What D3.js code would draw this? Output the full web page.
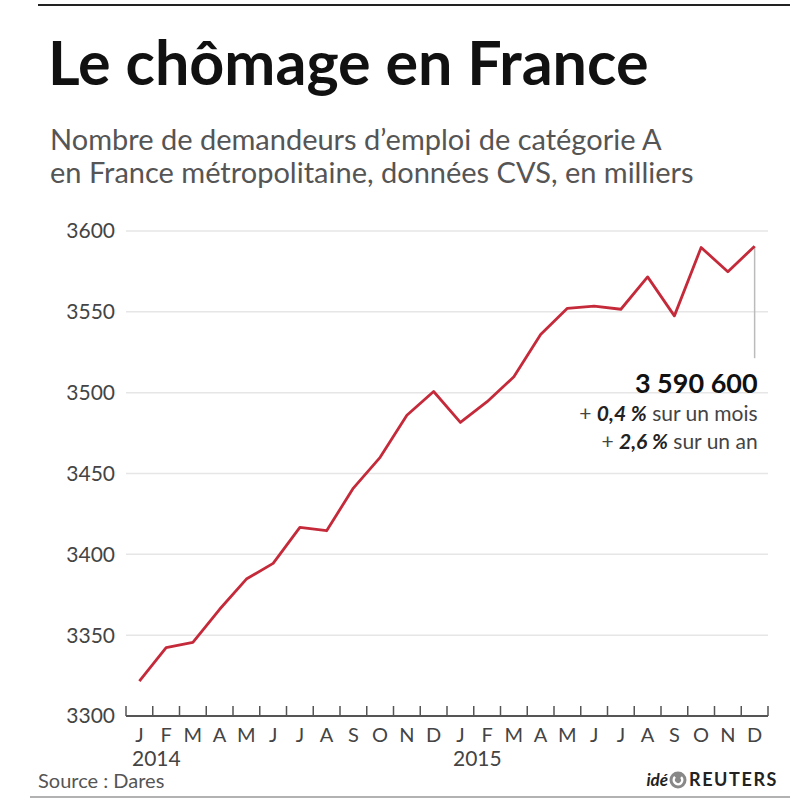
<!DOCTYPE html>
<html>
<head>
<meta charset="utf-8">
<script src="https://cdnjs.cloudflare.com/ajax/libs/d3/7.8.5/d3.min.js"></script>
<style>
  body { margin: 0; background: #fff; }
  svg { display: block; font-family: Lato, "Open Sans", sans-serif; }
</style>
</head>
<body>
<svg id="chart" width="800" height="800"></svg>
<script>
// Demandeurs d'emploi cat. A, en milliers (janv. 2014 - déc. 2015)
var MONTHS = ["J", "F", "M", "A", "M", "J", "J", "A", "S", "O", "N", "D",
              "J", "F", "M", "A", "M", "J", "J", "A", "S", "O", "N", "D"];
var YEARS = [{ label: "2014", index: 0 }, { label: "2015", index: 12 }];
var VALUES = [3321.5, 3342.3, 3345.5, 3366, 3384.7, 3394.4, 3416.7, 3414.6, 3441, 3460, 3486, 3500.7,
              3481.6, 3494.4, 3509.8, 3536, 3552.2, 3553.5, 3551.6, 3571.6, 3547.5, 3589.8, 3574.8, 3590.6];
var Y_TICKS = [3300, 3350, 3400, 3450, 3500, 3550, 3600];

var margin = { left: 126, right: 32, top: 231, bottom: 84 };
var svg = d3.select("#chart");
var W = 800, H = 800;
var chartW = W - margin.left - margin.right;
var chartH = H - margin.top - margin.bottom;

// header
svg.append("line").attr("x1", 38).attr("x2", 790).attr("y1", 5).attr("y2", 5)
    .attr("stroke", "#222").attr("stroke-width", 2);
svg.append("text").attr("x", 48).attr("y", 85)
    .attr("font-size", 61).attr("font-weight", 700).attr("fill", "#111")
    .text("Le chômage en France");
var subtitle = ["Nombre de demandeurs d\u2019emploi de catégorie A",
                "en France métropolitaine, données CVS, en milliers"];
svg.selectAll(".subtitle").data(subtitle).enter().append("text")
    .attr("class", "subtitle")
    .attr("x", 50).attr("y", (d, i) => 150 + i * 33)
    .attr("font-size", 29).attr("fill", "#555")
    .text(d => d);

var g = svg.append("g").attr("transform", "translate(" + margin.left + "," + margin.top + ")");

var x = d3.scaleBand().domain(d3.range(MONTHS.length)).range([0, chartW]);
var y = d3.scaleLinear().domain([3300, 3600]).range([chartH, 0]);

// gridlines
g.selectAll(".grid").data(Y_TICKS.slice(1)).enter().append("line")
    .attr("class", "grid")
    .attr("x1", 0).attr("x2", chartW)
    .attr("y1", d => y(d)).attr("y2", d => y(d))
    .attr("stroke", "#e6e6e6").attr("stroke-width", 1.5);

// y labels
g.selectAll(".ylab").data(Y_TICKS).enter().append("text")
    .attr("class", "ylab")
    .attr("x", -11).attr("y", d => y(d)).attr("dy", "0.35em")
    .attr("text-anchor", "end").attr("font-size", 21).attr("fill", "#444")
    .text(d => d);

// x axis: baseline + ticks at month boundaries
g.append("line").attr("x1", 0).attr("x2", chartW).attr("y1", chartH).attr("y2", chartH)
    .attr("stroke", "#555").attr("stroke-width", 2);
g.selectAll(".tick").data(d3.range(MONTHS.length + 1)).enter().append("line")
    .attr("class", "tick")
    .attr("x1", d => d * x.step()).attr("x2", d => d * x.step())
    .attr("y1", chartH).attr("y2", chartH - 10)
    .attr("stroke", "#555").attr("stroke-width", 1.5);
g.selectAll(".mlab").data(MONTHS).enter().append("text")
    .attr("class", "mlab")
    .attr("x", (d, i) => x(i) + x.bandwidth() / 2).attr("y", chartH + 26)
    .attr("text-anchor", "middle").attr("font-size", 20).attr("fill", "#444")
    .text(d => d);
g.selectAll(".year").data(YEARS).enter().append("text")
    .attr("class", "year")
    .attr("x", d => x(d.index) + 6).attr("y", chartH + 50)
    .attr("font-size", 21).attr("fill", "#444")
    .text(d => d.label);

// annotation connector
var lastI = VALUES.length - 1;
g.append("line")
    .attr("x1", x(lastI) + x.bandwidth() / 2).attr("x2", x(lastI) + x.bandwidth() / 2)
    .attr("y1", y(VALUES[lastI])).attr("y2", y(VALUES[lastI]) + 112)
    .attr("stroke", "#bbb").attr("stroke-width", 1.5);

// line
var line = d3.line()
    .x((d, i) => x(i) + x.bandwidth() / 2)
    .y(d => y(d));
g.append("path").datum(VALUES)
    .attr("d", line)
    .attr("fill", "none").attr("stroke", "#c52a3a").attr("stroke-width", 2.8)
    .attr("stroke-linejoin", "round");

// annotation text
var ax = x(lastI) + x.bandwidth() / 2 + 3;
var ay = y(VALUES[lastI]);
g.append("text").attr("x", ax).attr("y", ay + 147)
    .attr("text-anchor", "end").attr("font-size", 27).attr("font-weight", 700).attr("fill", "#111")
    .text("3 590 600");
var notes = [["+ ", "0,4 %", " sur un mois"], ["+ ", "2,6 %", " sur un an"]];
notes.forEach(function (n, i) {
    var t = g.append("text").attr("x", ax).attr("y", ay + 175 + i * 28)
        .attr("text-anchor", "end").attr("font-size", 21).attr("fill", "#444");
    t.append("tspan").text(n[0]);
    t.append("tspan").attr("font-weight", 700).attr("font-style", "italic").attr("fill", "#222").text(n[1]);
    t.append("tspan").text(n[2]);
});

// footer
svg.append("text").attr("x", 38).attr("y", 788)
    .attr("font-size", 20).attr("fill", "#555").text("Source : Dares");
svg.append("text").attr("x", 668).attr("y", 786).attr("text-anchor", "end")
    .attr("font-size", 17).attr("font-weight", 700).attr("font-style", "italic").attr("fill", "#222")
    .text("idé");
svg.append("circle").attr("cx", 678).attr("cy", 780).attr("r", 8.5).attr("fill", "#888");
svg.append("path").attr("d", d3.arc()({ innerRadius: 3, outerRadius: 5.5, startAngle: 0.8, endAngle: 5.5 }))
    .attr("transform", "translate(678,780)").attr("fill", "#fff");
svg.append("text").attr("x", 689).attr("y", 786)
    .attr("font-size", 18).attr("font-weight", 700).attr("letter-spacing", 1.6).attr("fill", "#222")
    .text("REUTERS");
svg.append("line").attr("x1", 30).attr("x2", 790).attr("y1", 797).attr("y2", 797)
    .attr("stroke", "#999").attr("stroke-width", 1.5);
</script>
</body>
</html>
